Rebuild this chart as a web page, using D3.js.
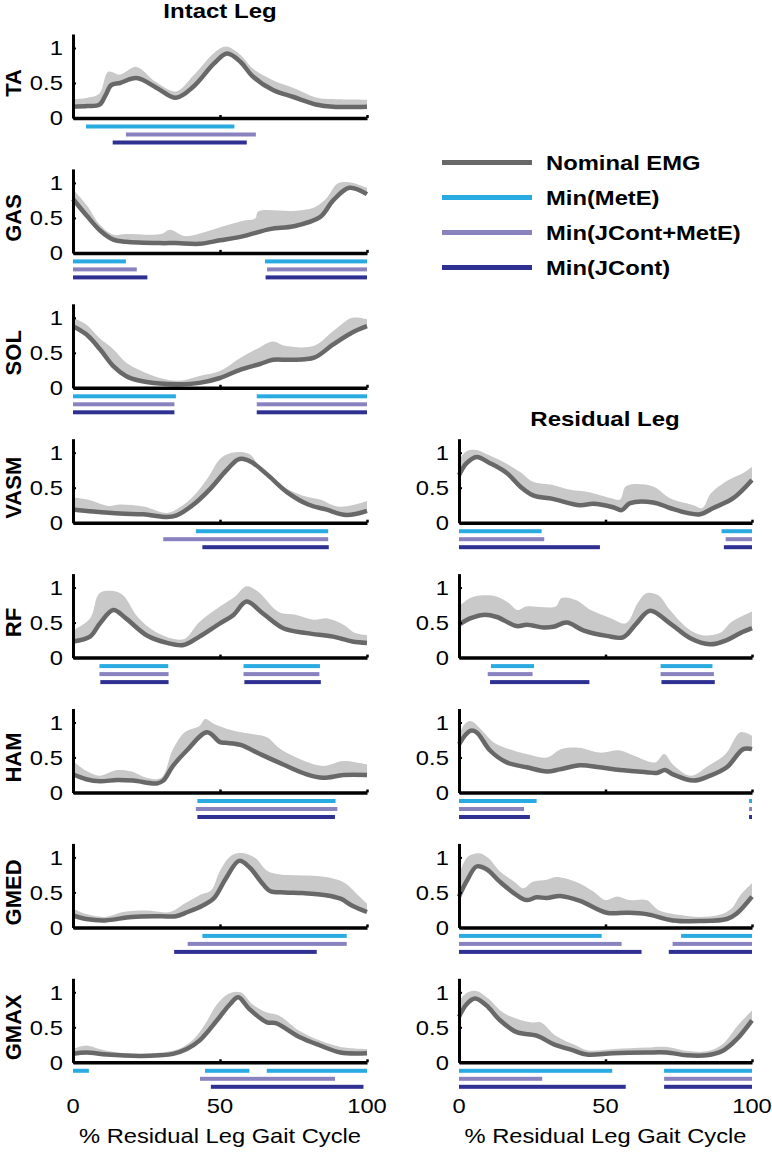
<!DOCTYPE html>
<html><head><meta charset="utf-8">
<script src="https://cdn.jsdelivr.net/npm/d3@7"></script>
<style>body{margin:0;background:#fff}svg{display:block}</style>
</head><body><svg id="c" width="772" height="1152"></svg>
<script>
// ---------------- DATA ----------------
const muscles = ["TA","GAS","SOL","VASM","RF","HAM","GMED","GMAX"];
const yTicks = [0, 0.5, 1];
const xTicks = [0, 50, 100];
const columnTitles = ["Intact Leg", "Residual Leg"];
const xAxisTitle = "% Residual Leg Gait Cycle";
const legendLabels = ["Nominal EMG","Min(MetE)","Min(JCont+MetE)","Min(JCont)"];

// Intact leg: [% gait cycle, normalized EMG]
const TA_I_mean = [[0,.16],[5,.17],[9,.19],[11,.32],[13,.47],[16,.5],[21.6,.57],[28.5,.43],[35,.29],[41,.45],[48,.78],[52.4,.92],[57,.8],[61,.6],[68,.4],[75,.3],[83,.19],[88.5,.16],[100,.16]];
const TA_I_upper = [[0,.27],[5,.29],[9,.35],[12,.66],[16,.62],[21.6,.73],[28,.52],[35,.38],[41,.61],[48,.93],[52,1.02],[57,.9],[61,.71],[68,.54],[75,.43],[83,.29],[88,.27],[100,.26]];
const TA_I_MetE = [[4.4,54.9]];
const TA_I_JM = [[18,62.2]];
const TA_I_JC = [[13.5,59.1]];

const GAS_I_mean = [[0,.77],[4.7,.53],[9.2,.32],[13.7,.19],[18,.16],[29.6,.14],[35,.14],[43,.13],[50,.18],[58,.24],[67,.34],[75,.38],[84,.51],[88.5,.75],[94,.93],[100,.84]];
const GAS_I_upper = [[0,.91],[4.7,.68],[9,.41],[13.7,.26],[18,.27],[30,.27],[33,.33],[38,.24],[45,.3],[52,.39],[58,.46],[62,.49],[63,.59],[75,.6],[82,.65],[86,.77],[90,.99],[94,1.01],[100,.93]];
const GAS_I_MetE = [[0,18],[65.3,100]];
const GAS_I_JM = [[0,21.7],[66,100]];
const GAS_I_JC = [[0,25.3],[65.5,100]];

const SOL_I_mean = [[0,.88],[4.6,.76],[9.2,.55],[13.7,.31],[18,.17],[22.8,.1],[29.6,.06],[36,.05],[43,.07],[50,.14],[57,.26],[63.6,.34],[68,.4],[74,.4],[82,.43],[88.5,.62],[95,.79],[100,.88]];
const SOL_I_upper = [[0,1.0],[4.6,.9],[9,.71],[13.7,.55],[18,.36],[22.8,.25],[29.6,.14],[36,.1],[43,.17],[50,.24],[57,.43],[63.6,.58],[68,.66],[72,.6],[82,.6],[88.5,.81],[95,1.0],[100,.98]];
const SOL_I_MetE = [[0,35],[62.5,100]];
const SOL_I_JM = [[0,34.5],[62.5,100]];
const SOL_I_JC = [[0,34.5],[62.5,100]];

const VASM_I_mean = [[0,.19],[6.9,.16],[16,.13],[24,.12],[32,.08],[35,.1],[41,.26],[46.6,.48],[52,.74],[56,.9],[58,.91],[61,.86],[66,.69],[73,.43],[80,.26],[86,.19],[93,.11],[100,.17]];
const VASM_I_upper = [[0,.36],[5,.33],[12,.24],[16,.26],[24,.23],[32,.14],[36,.21],[41,.38],[46,.65],[50,.91],[54,1.0],[60,.98],[64,.76],[70,.55],[78,.39],[84,.33],[90,.23],[96,.26],[100,.31]];
const VASM_I_MetE = [[41.8,86.8]];
const VASM_I_JM = [[30.7,86.8]];
const VASM_I_JC = [[44,87]];

const RF_I_mean = [[0,.23],[5.8,.3],[9.2,.49],[13.7,.68],[18,.56],[25,.32],[32,.21],[37.6,.18],[43,.3],[50,.49],[54.6,.61],[59,.8],[64.6,.63],[71.5,.42],[79.5,.35],[88.5,.3],[95,.23],[100,.21]];
const RF_I_upper = [[0,.39],[5.8,.56],[9,.92],[13.7,.95],[17,.89],[22,.58],[28,.37],[34,.27],[38,.27],[43,.51],[50,.73],[55,.87],[59,1.02],[63,.94],[70,.65],[76,.61],[82,.54],[86.6,.56],[92,.47],[96,.35],[100,.32]];
const RF_I_MetE = [[9,32.4],[58,84]];
const RF_I_JM = [[9,32.5],[58,83.8]];
const RF_I_JC = [[9.3,32.5],[58.3,84.3]];

const HAM_I_mean = [[0,.26],[4.5,.19],[9.2,.16],[15,.18],[20.5,.17],[28.5,.13],[30.7,.17],[34,.38],[38.7,.6],[45.6,.86],[50,.72],[52,.71],[57,.68],[63.6,.55],[71.5,.4],[79.5,.26],[85,.21],[92,.25],[100,.25]];
const HAM_I_upper = [[0,.45],[4.5,.31],[9,.24],[15,.32],[20,.3],[25,.21],[30,.21],[34,.62],[38,.86],[43,.95],[45,1.05],[48,.98],[55,.88],[62,.83],[66,.79],[70,.64],[76,.5],[85,.38],[92,.45],[100,.4]];
const HAM_I_MetE = [[42.3,89.3]];
const HAM_I_JM = [[41.8,89.9]];
const HAM_I_JC = [[42.3,89.1]];

const GMED_I_mean = [[0,.17],[4.5,.12],[11,.1],[20,.15],[30,.16],[35,.16],[39,.22],[44,.31],[48,.42],[52,.7],[56.5,.95],[60,.86],[64,.65],[67,.52],[72,.5],[78,.49],[86,.46],[91,.41],[95,.31],[100,.22]];
const GMED_I_upper = [[0,.27],[4.5,.19],[11,.15],[17,.22],[25,.24],[33,.22],[38,.34],[43,.46],[47,.53],[50,.81],[54,1.03],[58,1.06],[62,.99],[66,.81],[70,.76],[80,.74],[86,.72],[90,.68],[93,.62],[96,.5],[100,.34]];
const GMED_I_MetE = [[44,93.1]];
const GMED_I_JM = [[39,93.1]];
const GMED_I_JC = [[34.4,82.9]];

const GMAX_I_mean = [[0,.12],[4.5,.14],[11.5,.11],[22.8,.09],[29.6,.1],[34,.12],[38.7,.19],[43,.31],[49,.6],[53.4,.83],[56.2,.93],[60,.76],[66,.57],[69,.56],[77,.36],[84,.24],[91,.14],[100,.13]];
const GMAX_I_upper = [[0,.19],[4.5,.24],[9,.19],[15,.14],[23,.12],[30,.14],[36,.19],[41,.33],[45,.55],[49,.83],[53,.98],[57,1.0],[61,.83],[66,.71],[70,.67],[77,.45],[84,.31],[91,.22],[100,.19]];
const GMAX_I_MetE = [[0,5.4],[44.9,60],[65.9,100]];
const GMAX_I_JM = [[43.2,89.1]];
const GMAX_I_JC = [[46.9,98.8]];

// Residual leg
const VASM_R_mean = [[0,.68],[2.6,.85],[6,.94],[10.6,.85],[16.3,.71],[20.8,.52],[25.3,.39],[32,.34],[41.3,.25],[45.8,.27],[52.6,.22],[55.5,.18],[58.4,.28],[66.3,.29],[72,.21],[77.8,.14],[82.3,.12],[86.8,.21],[93.6,.35],[100,.61]];
const VASM_R_upper = [[0,.9],[2.6,1.02],[6,1.04],[10,.97],[16,.85],[21,.72],[25,.59],[32,.54],[38,.47],[44,.44],[52,.35],[55,.33],[57,.52],[66,.52],[72,.35],[80,.25],[83,.21],[86,.42],[92,.61],[97,.71],[100,.8]];
const VASM_R_MetE = [[0,28.2],[89.6,100]];
const VASM_R_JM = [[0,29.1],[91,100]];
const VASM_R_JC = [[0,48.1],[90.4,100]];

const RF_R_mean = [[0,.47],[3.8,.56],[8.3,.61],[12.9,.58],[19.7,.45],[23.1,.47],[28.8,.43],[32.2,.44],[36.8,.5],[42.4,.39],[50.4,.31],[56,.29],[60.6,.49],[65.2,.67],[72,.49],[78.8,.28],[85.7,.19],[91.4,.25],[96,.35],[100,.42]];
const RF_R_upper = [[0,.73],[3.8,.85],[8.3,.89],[13,.87],[17,.78],[20,.68],[23,.73],[33,.73],[35,.85],[40,.82],[45,.68],[52,.56],[57,.49],[61,.78],[64,.92],[68,.89],[72,.68],[78,.42],[83,.32],[89,.35],[93,.51],[100,.66]];
const RF_R_MetE = [[10.9,25.6],[68.8,86.5]];
const RF_R_JM = [[9.8,25.1],[68.8,87]];
const RF_R_JC = [[10.6,44.5],[69.1,87.3]];

const HAM_R_mean = [[0,.69],[3.8,.88],[6,.86],[10.6,.6],[16.3,.43],[23.1,.36],[30,.3],[34.4,.33],[41.3,.39],[48,.36],[54.9,.32],[64,.29],[67.5,.28],[70.3,.32],[73,.26],[80,.17],[85.7,.24],[91.4,.36],[97,.62],[100,.62]];
const HAM_R_upper = [[0,.83],[2,.98],[4,1.02],[8,.88],[12,.71],[17,.62],[23,.55],[30,.5],[35,.62],[41,.64],[48,.57],[55,.6],[60,.52],[67,.43],[70,.55],[73,.4],[79,.24],[85,.38],[91,.55],[96,.86],[100,.81]];
const HAM_R_MetE = [[0,26.5],[99,100]];
const HAM_R_JM = [[0,22.2],[99,100]];
const HAM_R_JC = [[0,24.2],[99,100]];

const GMED_R_mean = [[0,.44],[2.6,.66],[6,.87],[9.4,.83],[14,.65],[19.7,.46],[23.1,.39],[26.5,.43],[30,.42],[34.5,.45],[41.3,.38],[50.4,.21],[57.2,.21],[64,.19],[73,.1],[82.2,.09],[91.4,.12],[94.8,.2],[100,.44]];
const GMED_R_upper = [[0,.75],[3,1.01],[7,1.06],[10,.99],[14,.8],[19,.65],[22,.56],[25,.65],[30,.68],[33,.72],[40,.65],[46,.51],[50,.39],[54,.44],[58,.39],[64,.39],[68,.25],[75,.18],[82,.15],[89,.18],[93,.27],[96,.46],[100,.63]];
const GMED_R_MetE = [[0,48.7],[75.8,100]];
const GMED_R_JM = [[0,55.5],[72.9,100]];
const GMED_R_JC = [[0,62.3],[71.6,100]];

const GMAX_R_mean = [[0,.65],[2.6,.83],[5.5,.91],[9.4,.81],[14,.6],[19.7,.43],[26.5,.38],[32.2,.26],[39,.17],[43.6,.11],[52.7,.13],[64,.14],[70.9,.14],[77.7,.1],[84.5,.1],[90.2,.17],[94.8,.33],[100,.6]];
const GMAX_R_upper = [[0,.88],[3,1.0],[6,1.02],[10,.91],[15,.71],[20,.62],[25,.57],[28,.57],[33,.38],[40,.24],[44,.17],[53,.19],[64,.21],[71,.22],[78,.16],[85,.16],[90,.26],[95,.52],[100,.74]];
const GMAX_R_MetE = [[0,52.3],[70,100]];
const GMAX_R_JM = [[0,28.4],[70,100]];
const GMAX_R_JC = [[0,56.9],[70,100]];

// table of panels built from the arrays above
const panels = [
  {row:0,col:0,mean:TA_I_mean,upper:TA_I_upper,MetE:TA_I_MetE,JM:TA_I_JM,JC:TA_I_JC},
  {row:1,col:0,mean:GAS_I_mean,upper:GAS_I_upper,MetE:GAS_I_MetE,JM:GAS_I_JM,JC:GAS_I_JC},
  {row:2,col:0,mean:SOL_I_mean,upper:SOL_I_upper,MetE:SOL_I_MetE,JM:SOL_I_JM,JC:SOL_I_JC},
  {row:3,col:0,mean:VASM_I_mean,upper:VASM_I_upper,MetE:VASM_I_MetE,JM:VASM_I_JM,JC:VASM_I_JC},
  {row:4,col:0,mean:RF_I_mean,upper:RF_I_upper,MetE:RF_I_MetE,JM:RF_I_JM,JC:RF_I_JC},
  {row:5,col:0,mean:HAM_I_mean,upper:HAM_I_upper,MetE:HAM_I_MetE,JM:HAM_I_JM,JC:HAM_I_JC},
  {row:6,col:0,mean:GMED_I_mean,upper:GMED_I_upper,MetE:GMED_I_MetE,JM:GMED_I_JM,JC:GMED_I_JC},
  {row:7,col:0,mean:GMAX_I_mean,upper:GMAX_I_upper,MetE:GMAX_I_MetE,JM:GMAX_I_JM,JC:GMAX_I_JC},
  {row:3,col:1,mean:VASM_R_mean,upper:VASM_R_upper,MetE:VASM_R_MetE,JM:VASM_R_JM,JC:VASM_R_JC},
  {row:4,col:1,mean:RF_R_mean,upper:RF_R_upper,MetE:RF_R_MetE,JM:RF_R_JM,JC:RF_R_JC},
  {row:5,col:1,mean:HAM_R_mean,upper:HAM_R_upper,MetE:HAM_R_MetE,JM:HAM_R_JM,JC:HAM_R_JC},
  {row:6,col:1,mean:GMED_R_mean,upper:GMED_R_upper,MetE:GMED_R_MetE,JM:GMED_R_JM,JC:GMED_R_JC},
  {row:7,col:1,mean:GMAX_R_mean,upper:GMAX_R_upper,MetE:GMAX_R_MetE,JM:GMAX_R_JM,JC:GMAX_R_JC}
];

// ---------------- LAYOUT / STYLE ----------------
const W = 772, H = 1152;
const FONT = "'Liberation Sans', Arial, Helvetica, sans-serif";
const cols = [{x0:73, x1:367}, {x0:459, x1:752}];
const row0 = 118, rowStep = 134.9, axisH = 84;
const COLORS = {mean:"#686868", band:"#c9c9c9", MetE:"#29abe2", JM:"#8882bf", JC:"#2e3192", axis:"#000"};
const barKeys = ["MetE","JM","JC"];
const barOffsets = [8.5, 16.5, 24.5];
const barH = 4;
const SX = 1.13;   // horizontal stretch of the horizontal text

const svg = d3.select("#c");
svg.append("rect").attr("width",W).attr("height",H).attr("fill","#fff");

function hText(parent, str, x, y, o) {
  o = o || {};
  return parent.append("text")
    .attr("transform", `translate(${x},${y}) scale(${o.sx || SX},1)`)
    .attr("text-anchor", o.anchor || "start")
    .attr("font-family", FONT)
    .attr("font-size", o.size || 21)
    .attr("font-weight", o.weight || "normal")
    .attr("fill", "#000")
    .text(str);
}

panels.forEach(p => {
  const c = cols[p.col];
  const zero = row0 + p.row * rowStep;
  const x = d3.scaleLinear().domain([0,100]).range([c.x0, c.x1]);
  const y = d3.scaleLinear().domain([0,1.2]).range([zero, zero - axisH]);
  const g = svg.append("g");

  const line = d3.line().x(d => x(d[0])).y(d => y(d[1])).curve(d3.curveCatmullRom.alpha(0.5));
  const bandD = line(p.upper) + line(p.mean.slice().reverse()).replace(/^M/, "L") + "Z";
  g.append("path").attr("d", bandD).attr("fill", COLORS.band);
  g.append("path").attr("d", line(p.mean)).attr("fill","none")
    .attr("stroke", COLORS.mean).attr("stroke-width", 4.5)
    .attr("stroke-linejoin","round").attr("stroke-linecap","butt");

  // bars
  barKeys.forEach((k, i) => {
    g.selectAll(null).data(p[k]).join("rect")
      .attr("x", d => x(d[0]))
      .attr("width", d => Math.max(1.5, x(d[1]) - x(d[0])))
      .attr("y", zero + barOffsets[i] - barH/2)
      .attr("height", barH)
      .attr("fill", COLORS[k]);
  });

  // y axis
  const ya = g.append("g").attr("transform", `translate(${c.x0},0)`)
    .call(d3.axisLeft(y).tickValues(yTicks).tickSize(-3).tickSizeOuter(0).tickPadding(9)
      .tickFormat(d => d === 0.5 ? "0.5" : String(d)));
  ya.select(".domain").attr("stroke", COLORS.axis).attr("stroke-width", 3);
  ya.selectAll(".tick line").attr("stroke", COLORS.axis).attr("stroke-width", 2);
  ya.selectAll(".tick text")
    .attr("font-family", FONT).attr("font-size", 21).attr("fill", "#000")
    .attr("transform", `scale(${SX},1)`);
  ya.attr("font-family", null).attr("font-size", null);

  // x axis
  const xa = g.append("g").attr("transform", `translate(0,${zero})`)
    .call(d3.axisBottom(x).tickValues(xTicks).tickSize(-3).tickSizeOuter(0).tickFormat(""));
  xa.select(".domain").attr("stroke", COLORS.axis).attr("stroke-width", 3.5);
  xa.selectAll(".tick line").attr("stroke", COLORS.axis).attr("stroke-width", 2.5);

  if (p.col === 0) {
    g.append("text")
      .attr("transform", `translate(21,${y(0.5)}) rotate(-90)`)
      .attr("text-anchor","middle")
      .attr("font-family", FONT).attr("font-size", 22).attr("font-weight","bold")
      .text(muscles[p.row]);
  }
  if (p.row === muscles.length - 1) {
    xTicks.forEach(t => hText(g, String(t), x(t), 1113, {anchor:"middle", size:21}));
    hText(g, xAxisTitle, (c.x0 + c.x1) / 2, 1143, {anchor:"middle", size:21});
  }
});

// column titles
hText(svg, columnTitles[0], 220, 18, {anchor:"middle", size:20, weight:"bold", sx:1.2});
hText(svg, columnTitles[1], 605, 426, {anchor:"middle", size:20, weight:"bold", sx:1.2});

// legend
const legColors = [COLORS.mean, COLORS.MetE, COLORS.JM, COLORS.JC];
legendLabels.forEach((lab, i) => {
  const ly = 162.5 + i * 35;
  svg.append("line").attr("x1", 442).attr("x2", 532).attr("y1", ly).attr("y2", ly)
    .attr("stroke", legColors[i]).attr("stroke-width", 5);
  hText(svg, lab, 546, ly + 7.5, {size:20.5, weight:"bold", sx:1.16});
});
</script>
</body></html>
